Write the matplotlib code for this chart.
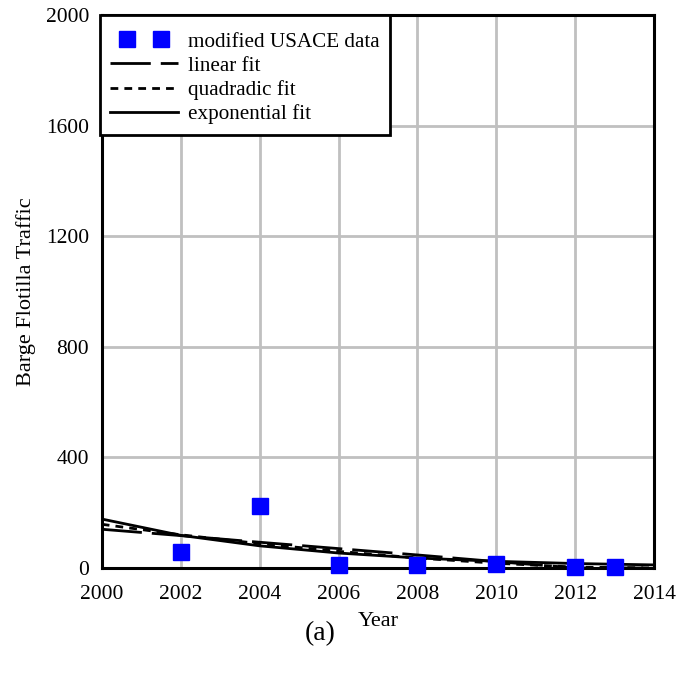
import matplotlib.pyplot as plt
from matplotlib.legend_handler import HandlerLine2D
from matplotlib.patches import Rectangle

plt.rcParams['font.family'] = ['Liberation Serif', 'DejaVu Serif']

# data
years = [2002, 2004, 2006, 2008, 2010, 2012, 2013]
traffic = [58, 224, 11, 11, 15, 2, 3]

fit_years = [2000, 2002, 2004, 2006, 2008, 2010, 2012, 2014]
linear_fit = [140, 117, 93, 70, 47, 23, 0, 0]
quad_fit = [158, 120, 88, 60, 36, 17, 3, 0]
exp_fit = [177, 118, 80, 54, 36, 24, 16, 11]

fig = plt.figure(figsize=(6.78, 6.81), dpi=100)
ax = fig.add_axes([0.150, 0.166, 0.815, 0.812])

pts, = ax.plot(years, traffic, 's', color='#0000ff', markersize=11,
               clip_on=False, label='modified USACE data', zorder=5)
ax.plot(fit_years, linear_fit, color='black', lw=2, dashes=(14.5, 3.6),
        label='linear fit')
ax.plot(fit_years, quad_fit, color='black', lw=2, dashes=(2.8, 2.2),
        label='quadradic fit')
ax.plot(fit_years, exp_fit, color='black', lw=2, label='exponential fit')

ax.set_xlim(2000, 2014)
ax.set_ylim(0, 2000)
ax.set_xticks(range(2000, 2015, 2))
ax.set_yticks(range(0, 2001, 400))
ax.grid(True, color='#c0c0c0', lw=2)
ax.set_axisbelow(True)
ax.tick_params(length=0, labelsize=15.5)
ax.tick_params(axis='x', pad=12)
ax.tick_params(axis='y', pad=9)
for s in ax.spines.values():
    s.set_linewidth(2.2)

ax.set_xlabel('Year', fontsize=16, labelpad=6)
ax.set_ylabel('Barge Flotilla Traffic', fontsize=16, labelpad=7)

# legend box has more room above/below than at the sides, so draw
# the frame by hand around an unframed legend
ax_h = 0.812 * 681
ax_w = 0.815 * 678
top_gap = 15 / ax_h
leg = ax.legend(loc='upper left', bbox_to_anchor=(0, 1 - top_gap),
                numpoints=2, fontsize=15.2, frameon=False,
                borderaxespad=0, handlelength=3.8, labelspacing=0.2,
                borderpad=0.1, handletextpad=0.2,
                handler_map={pts: HandlerLine2D(marker_pad=1.1)})
leg.set_zorder(6)

fig.canvas.draw()
bb = leg.get_window_extent().transformed(ax.transAxes.inverted())
x0 = bb.x0 - 2 / ax_w
y0 = bb.y0 - 9 / ax_h
frame = Rectangle((x0, y0), bb.x1 + 8 / ax_w - x0, 1 - y0,
                  transform=ax.transAxes, facecolor='white',
                  edgecolor='black', lw=2, zorder=5.5, clip_on=False)
ax.add_patch(frame)

fig.text(0.472, 0.06, '(a)', fontsize=20, ha='center')

fig.savefig('out.png', dpi=100)
